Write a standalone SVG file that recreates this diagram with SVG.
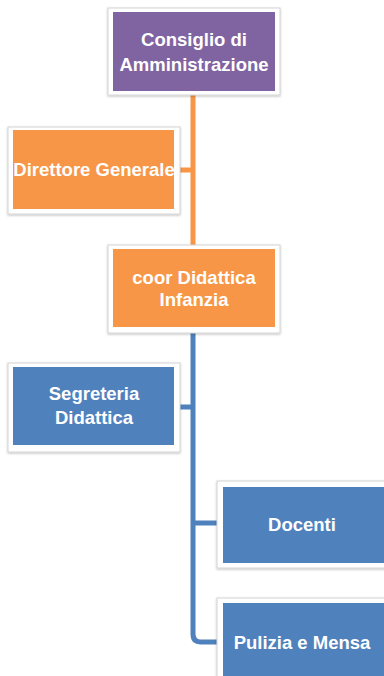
<svg xmlns="http://www.w3.org/2000/svg" width="384" height="676" viewBox="0 0 384 676">
<defs>
<filter id="sh" x="-10%" y="-10%" width="120%" height="130%">
<feDropShadow dx="0" dy="1" stdDeviation="1" flood-color="#000" flood-opacity="0.25"/>
</filter>
</defs>
<style>
.frame{fill:#ffffff;stroke:#d4d4d4;stroke-width:1;filter:url(#sh)}
.purple{fill:#8064A2}
.orange{fill:#F79646}
.blue{fill:#4F81BD}
.t{font-family:"Liberation Sans",Arial,sans-serif;font-weight:bold;font-size:18.5px;fill:#ffffff;text-anchor:middle}
.co{fill:none;stroke:#F79646;stroke-width:5}
.cb{fill:none;stroke:#4F81BD;stroke-width:5}
</style>
<rect width="384" height="676" fill="#ffffff"/>
<g id="connectors">
<path class="co" d="M193,95 V247 M178,170 H193"/>
<path class="cb" d="M193,333 V634 Q193,642 201,642 H218 M178,407 H193 M193,523 H218"/>
</g>
<g id="consiglio">
<rect class="frame" x="108" y="8" width="172" height="87"/>
<rect class="purple" x="113" y="12" width="162" height="79"/>
<text class="t" x="194" y="46">Consiglio di</text>
<text class="t" x="194" y="71">Amministrazione</text>
</g>
<g id="direttore">
<rect class="frame" x="8" y="127" width="172" height="87"/>
<rect class="orange" x="13" y="130" width="161" height="79"/>
<text class="t" x="94" y="176">Direttore Generale</text>
</g>
<g id="coor">
<rect class="frame" x="108" y="245" width="172" height="88"/>
<rect class="orange" x="113" y="249" width="162" height="78"/>
<text class="t" x="194" y="284">coor Didattica</text>
<text class="t" x="194" y="306">Infanzia</text>
</g>
<g id="segreteria">
<rect class="frame" x="8" y="363" width="172" height="89"/>
<rect class="blue" x="13" y="367" width="161" height="78"/>
<text class="t" x="94" y="400">Segreteria</text>
<text class="t" x="94" y="424">Didattica</text>
</g>
<g id="docenti">
<rect class="frame" x="217" y="481" width="172" height="87"/>
<rect class="blue" x="223" y="487" width="165" height="76"/>
<text class="t" x="302" y="531">Docenti</text>
</g>
<g id="pulizia">
<rect class="frame" x="217" y="598" width="172" height="90"/>
<rect class="blue" x="223" y="603" width="165" height="85"/>
<text class="t" x="302" y="649">Pulizia e Mensa</text>
</g>
</svg>
